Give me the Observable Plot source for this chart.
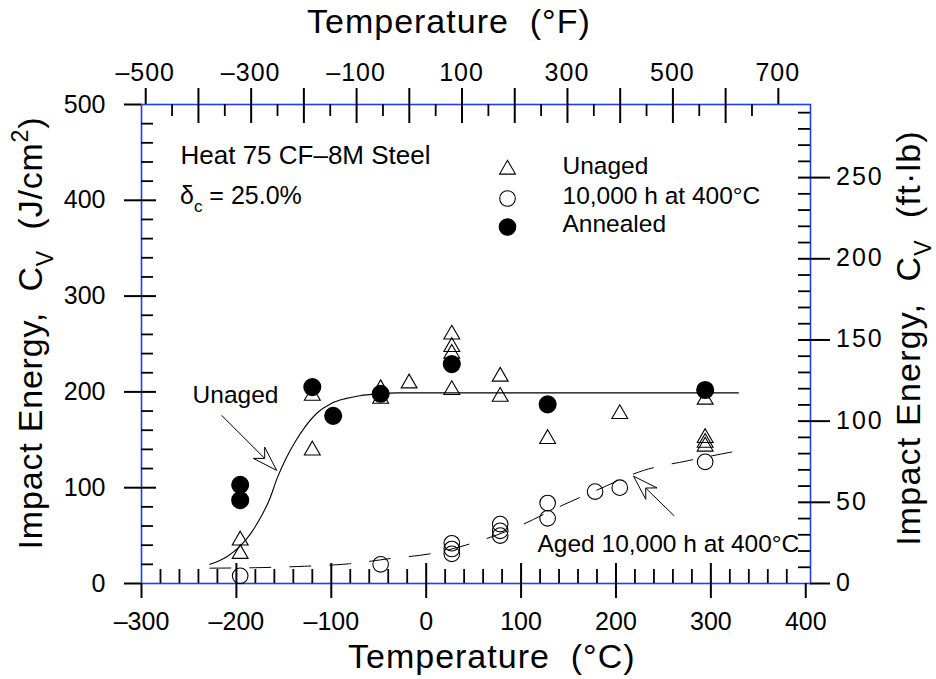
<!DOCTYPE html>
<html>
<head>
<meta charset="utf-8">
<script src="https://cdn.jsdelivr.net/npm/d3@7"></script>
<script src="https://cdn.jsdelivr.net/npm/@observablehq/plot@0.6"></script>
<style>
html,body{margin:0;padding:0;background:#fff;}
#chart{width:936px;height:679px;}
#chart svg{display:block;}
</style>
</head>
<body>
<div id="chart"></div>
<script>
// ---------------- data ----------------
const unagedTemp   = [-196,-196,-120,-120,-48,-48,-18,27,27,27,27,78,78,128,204,294,294,294,294];
const unagedEnergy = [45,31,196,139,203,193,209,260,247,240,202,216,195,151,177,192,152,147,143];

const agedTemp     = [-196,-48,27,27,27,78,78,78,128,128,178,204,294];
const agedEnergy   = [8,20,42,36,31,62,55,50,84,68,96,100,127];

const annealedTemp   = [-196,-196,-120,-98,-48,27,128,294];
const annealedEnergy = [103,87,205,175,198,229,187,202];

// fitted curves
const unagedFitTemp   = [-228,-210,-195,-185,-175,-165,-157,-148,-138,-128,-115,-100,-85,-70,-50,-30,0,100,200,329];
const unagedFitEnergy = [20,28,40,52,68,88,110,130,148,163,178,188,193,196,198,199,199,199,199,199];
const agedFitTemp     = [-228,-180,-128,-82,-38,7,50,96,141,180,229,275,331];
const agedFitEnergy   = [16,16.5,18,20.5,26,31.5,42.5,59,80.5,97.5,118,128,139];

// annotation arrows (tail -> tip), in data units
const arrowTailTemp = [-215, 262];
const arrowTailEnergy = [175, 70];
const arrowTipTemp = [-157, 219];
const arrowTipEnergy = [117.5, 111.5];

const legendLabels  = ["Unaged", "10,000 h at 400°C", "Annealed"];
const legendSymbols = ["triangle", "circle", "circle"];
const legendFills   = ["none", "none", "black"];

// axes
const tempCTicks   = [-300,-200,-100,0,100,200,300,400];
const tempFTicks   = [-500,-400,-300,-200,-100,0,100,200,300,400,500,600,700];
const tempFLabels  = [-500,-300,-100,100,300,500,700];
const tempFMinor   = [-450,-350,-250,-150,-50,50,150,250,350,450,550,650];
const energyTicks  = [0,100,200,300,400,500];
const ftlbTicks    = [0,50,100,150,200,250];

const tempCMinor = d3.range(-280, 400, 20).filter(d => d % 100 !== 0);
const energyMinor = d3.range(20, 500, 20).filter(d => d % 100 !== 0);
const ftlbMinor = d3.range(10, 300, 10).filter(d => d % 50 !== 0);

const fToC = f => (f - 32) / 1.8;
const ftlbToJcm2 = v => v * 1.35582 / 0.8;
const dash = v => v < 0 ? "\u2013" + Math.abs(v) : String(v);

const zip = (a, b) => a.map((t, i) => ({T: t, E: b[i]}));
const unaged = zip(unagedTemp, unagedEnergy);
const aged = zip(agedTemp, agedEnergy);
const annealed = zip(annealedTemp, annealedEnergy);
const unagedFit = zip(unagedFitTemp, unagedFitEnergy);
const agedFit = zip(agedFitTemp, agedFitEnergy);
const arrows = arrowTailTemp.map((t, i) => ({T1: t, E1: arrowTailEnergy[i], T2: arrowTipTemp[i], E2: arrowTipEnergy[i]}));

const W = 936, H = 679, mL = 141, mR = 126, mT = 104, mB = 96;
const PW = W - mL - mR, PH = H - mT - mB;
const FONT = "'Liberation Sans', Arial, Helvetica, sans-serif";
const BLUE = "#1f3ff0";

// rich text (sub/superscripts), arrows drawn with the plot's scales
function richText(parent, {x, y, rotate = 0, anchor = "start", size, parts, spacing = 0}) {
  const t = parent.append("text")
    .attr("transform", `translate(${x},${y}) rotate(${rotate})`)
    .attr("text-anchor", anchor)
    .attr("font-size", size)
    .attr("letter-spacing", spacing)
    .attr("fill", "black")
    .style("white-space", "pre");
  let shift = 0;
  for (const p of parts) {
    const target = p.sub ? size * 0.32 : p.sup ? -size * 0.42 : 0;
    t.append("tspan")
      .attr("dy", target - shift)
      .attr("font-size", (p.sub || p.sup) ? size * 0.68 : size)
      .text(p.t);
    shift = target;
  }
}

function extras(index, scales) {
  const sx = scales.x, sy = scales.y;
  const g = d3.create("svg:g").attr("font-family", FONT);
  // arrows with hollow heads
  for (const a of arrows) {
    const x1 = sx(a.T1), y1 = sy(a.E1), x2 = sx(a.T2), y2 = sy(a.E2);
    const L = Math.hypot(x2 - x1, y2 - y1), ux = (x2 - x1) / L, uy = (y2 - y1) / L, nx = -uy, ny = ux;
    const hl = 25, hw = 8, notch = 17;
    g.append("line").attr("x1", x1).attr("y1", y1).attr("x2", x2 - ux * notch).attr("y2", y2 - uy * notch)
      .attr("stroke", "black").attr("stroke-width", 1);
    g.append("path")
      .attr("d", `M${x2},${y2}L${x2 - ux*hl + nx*hw},${y2 - uy*hl + ny*hw}L${x2 - ux*notch},${y2 - uy*notch}L${x2 - ux*hl - nx*hw},${y2 - uy*hl - ny*hw}Z`)
      .attr("fill", "white").attr("stroke", "black").attr("stroke-width", 1);
  }
  // axis titles
  richText(g, {x: 307, y: 33, size: 34, spacing: 1, parts: [{t: "Temperature  (\u00b0F)"}]});
  richText(g, {x: 348, y: 668, size: 34, spacing: 1, parts: [{t: "Temperature  (\u00b0C)"}]});
  richText(g, {x: 42, y: 333, rotate: -90, anchor: "middle", size: 34, spacing: 0.8,
    parts: [{t: "Impact Energy,  C"}, {t: "V", sub: true}, {t: "  (J/cm"}, {t: "2", sup: true}, {t: ")"}]});
  richText(g, {x: 920, y: 338, rotate: -90, anchor: "middle", size: 34, spacing: 1.2,
    parts: [{t: "Impact Energy,  C"}, {t: "V", sub: true}, {t: "  (ft\u00b7lb)"}]});
  // delta_c annotation
  richText(g, {x: mL + 39, y: 204, size: 25,
    parts: [{t: "\u03b4"}, {t: "c", sub: true}, {t: " = 25.0%"}]});
  // top and right tick labels (slightly spaced digits as in reference)
  for (const f of tempFLabels) {
    g.append("text").attr("x", sx(fToC(f))).attr("y", 81).attr("text-anchor", "middle")
      .attr("font-size", 25).attr("letter-spacing", 1).text(dash(f));
  }
  for (const v of ftlbTicks) {
    g.append("text").attr("x", mL + PW + 26).attr("y", sy(ftlbToJcm2(v)) + 8).attr("text-anchor", "start")
      .attr("font-size", 25).attr("letter-spacing", 2).text(String(v));
  }
  return g.node();
}

const black = "black";
const M = "middle";
const chart = Plot.plot({
  width: W, height: H,
  marginLeft: mL, marginRight: mR, marginTop: mT, marginBottom: mB,
  x: {domain: [-300, 405], axis: null},
  y: {domain: [0, 500], axis: null},
  style: {fontFamily: FONT, background: "white", overflow: "visible", color: "black"},
  marks: [
    Plot.frame({stroke: BLUE, strokeWidth: 1.6}),
    // bottom axis (°C)
    Plot.tickX(tempCTicks.filter(d => d > -300 && d < 400), {x: d => d, insetTop: PH - 20, stroke: black, strokeWidth: 2}),
    Plot.tickX(tempCTicks, {x: d => d, insetTop: PH, insetBottom: -15, stroke: black, strokeWidth: 2}),
    Plot.tickX(tempCMinor, {x: d => d, insetTop: PH - 14, stroke: black, strokeWidth: 1.8}),
    // top axis (°F)
    Plot.tickX(tempFTicks.filter(d => d > -500 && d < 700), {x: d => fToC(d), insetBottom: PH - 19, stroke: black, strokeWidth: 2}),
    Plot.tickX(tempFTicks, {x: d => fToC(d), insetTop: -16, insetBottom: PH, stroke: black, strokeWidth: 2}),
    Plot.tickX(tempFMinor, {x: d => fToC(d), insetBottom: PH - 12, stroke: black, strokeWidth: 1.8}),
    // left axis (J/cm2)
    Plot.tickY(energyTicks.filter(d => d > 0 && d < 500), {y: d => d, insetRight: PW - 15, stroke: black, strokeWidth: 2}),
    Plot.tickY(energyTicks, {y: d => d, insetLeft: -17, insetRight: PW, stroke: black, strokeWidth: 2}),
    Plot.tickY(energyMinor, {y: d => d, insetRight: PW - 12, stroke: black, strokeWidth: 1.8}),
    // right axis (ft·lb)
    Plot.tickY(ftlbTicks.filter(d => d > 0), {y: d => ftlbToJcm2(d), insetLeft: PW - 12, stroke: black, strokeWidth: 2}),
    Plot.tickY(ftlbTicks, {y: d => ftlbToJcm2(d), insetLeft: PW, insetRight: -20, stroke: black, strokeWidth: 2}),
    Plot.tickY(ftlbMinor, {y: d => ftlbToJcm2(d), insetLeft: PW - 12, stroke: black, strokeWidth: 1.8}),
    // tick labels
    Plot.text(tempCTicks, {x: d => d, frameAnchor: "bottom", lineAnchor: M, dy: 38, text: dash, fontSize: 25}),
    Plot.text(energyTicks, {y: d => d, frameAnchor: "left", lineAnchor: M, dx: -36, textAnchor: "end", text: d => String(d), fontSize: 25}),
    // fitted curves
    Plot.line(unagedFit, {x: "T", y: "E", curve: "monotone-x", stroke: black, strokeWidth: 1.1}),
    Plot.line(agedFit, {x: "T", y: "E", curve: "monotone-x", stroke: black, strokeWidth: 1, strokeDasharray: "21,19"}),
    // data
    Plot.dot(unaged, {x: "T", y: "E", symbol: "triangle", r: 5.9, stroke: black, fill: "none", strokeWidth: 1.1}),
    Plot.dot(aged, {x: "T", y: "E", symbol: "circle", r: 7.8, stroke: black, fill: "none", strokeWidth: 1.1}),
    Plot.dot(annealed, {x: "T", y: "E", symbol: "circle", r: 8.3, stroke: black, fill: black}),
    // legend
    ...legendLabels.map((lab, i) => Plot.dot([lab], {frameAnchor: "top-left", dx: 366, dy: [65, 94, 122.5][i],
      symbol: legendSymbols[i], r: legendSymbols[i] === "triangle" ? 5.9 : (legendFills[i] === "black" ? 8.3 : 7.8),
      stroke: black, fill: legendFills[i], strokeWidth: 1.1})),
    ...legendLabels.map((lab, i) => Plot.text([lab], {frameAnchor: "top-left", lineAnchor: M, dx: 421, dy: [61.5, 91.5, 120][i],
      text: d => d, textAnchor: "start", fontSize: 24.5})),
    // annotations
    Plot.text(["Heat 75 CF\u20138M Steel"], {frameAnchor: "top-left", lineAnchor: M, dx: 39, dy: 51, text: d => d, textAnchor: "start", fontSize: 26}),
    Plot.text(["Unaged"], {frameAnchor: "top-left", lineAnchor: M, dx: 94, dy: 291, text: d => d, textAnchor: "middle", fontSize: 24.5}),
    Plot.text(["Aged 10,000 h at 400\u00b0C"], {frameAnchor: "top-left", lineAnchor: M, dx: 396, dy: 440, text: d => d, textAnchor: "start", fontSize: 24.5}),
    extras
  ]
});
document.getElementById("chart").appendChild(chart);
</script>
</body>
</html>
